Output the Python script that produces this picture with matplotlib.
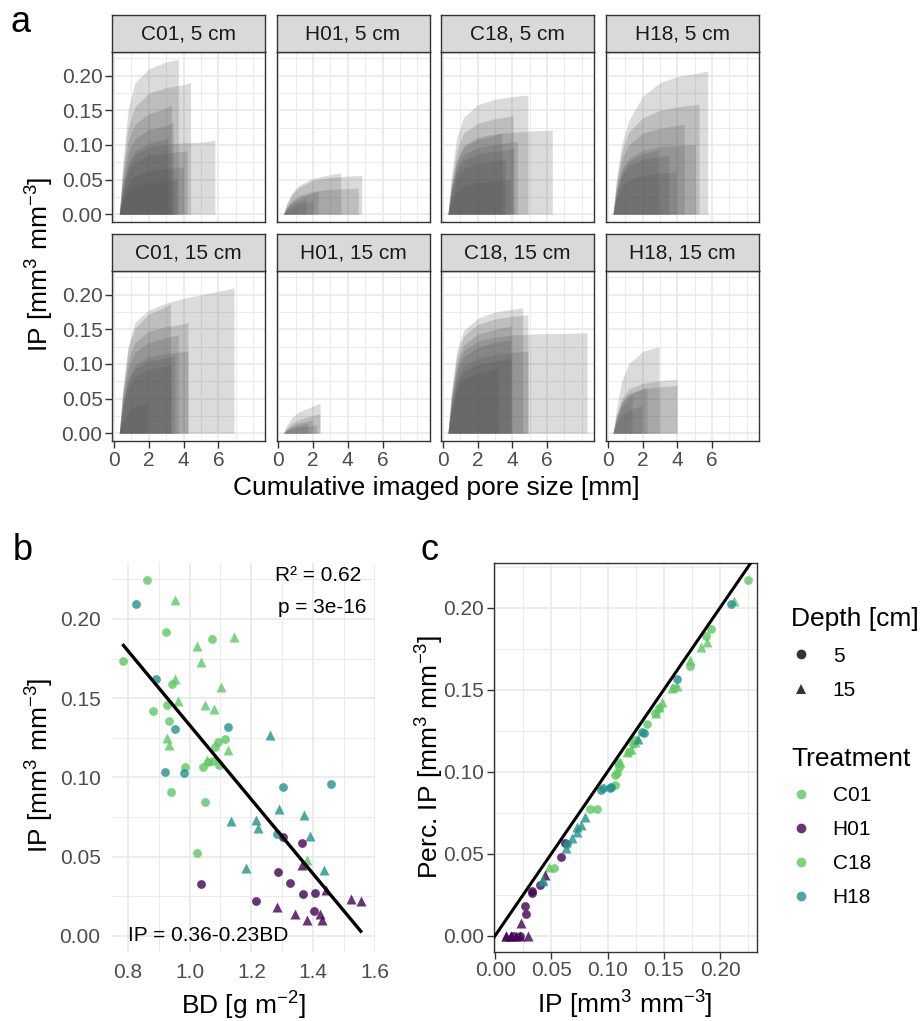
import matplotlib
matplotlib.use('Agg')
import matplotlib.pyplot as plt
from matplotlib.lines import Line2D
import numpy as np

plt.rcParams['font.family'] = ['Liberation Sans', 'DejaVu Sans']
plt.rcParams['mathtext.fontset'] = 'custom'
plt.rcParams['mathtext.rm'] = 'Liberation Sans'
plt.rcParams['mathtext.it'] = 'Liberation Sans:italic'
plt.rcParams['mathtext.bf'] = 'Liberation Sans:bold'

# ---------------- panel a: cumulative curves (x_end, y at KNOT_X ..., y at x_end)
KNOT_X = [0.3, 0.5, 0.8, 1.2, 2.0, 3.0, 4.0, 5.0, 6.0, 7.0, 8.0]

CURVES_C01_5 = [
    (3.7, [0, .07, .15, .19, .21, .22, .224]),
    (4.4, [0, .065, .125, .155, .175, .183, .187, .190]),
    (3.3, [0, .055, .105, .13, .145, .153, .158]),
    (3.4, [0, .047, .087, .109, .122, .128, .133]),
    (3.1, [0, .04, .073, .092, .103, .109, .112]),
    (5.8, [0, .037, .068, .086, .097, .101, .103, .104, .107]),
    (4.2, [0, .032, .06, .075, .085, .088, .091, .092]),
    (4.0, [0, .024, .044, .056, .063, .066, .068]),
    (3.6, [0, .018, .033, .041, .046, .048, .050]),
]
CURVES_H01_5 = [
    (3.6, [0, .016, .031, .042, .052, .057, .060]),
    (4.8, [0, .015, .029, .039, .049, .053, .055, .056]),
    (4.6, [0, .011, .020, .027, .033, .036, .037, .038]),
    (2.3, [0, .010, .018, .024, .031, .033]),
    (1.6, [0, .008, .015, .020, .024]),
    (2.0, [0, .006, .011, .015, .019]),
]
CURVES_C18_5 = [
    (4.9, [0, .055, .11, .14, .158, .166, .17, .172]),
    (4.05, [0, .048, .092, .117, .131, .138, .142, .143]),
    (6.3, [0, .04, .078, .099, .111, .116, .118, .12, .121, .122]),
    (3.4, [0, .04, .076, .096, .108, .114, .118]),
    (4.3, [0, .036, .068, .086, .096, .101, .104, .105]),
    (4.1, [0, .032, .062, .078, .087, .091, .094, .095]),
    (3.6, [0, .027, .052, .066, .073, .077, .080]),
    (3.9, [0, .017, .033, .041, .046, .048, .050]),
]
CURVES_H18_5 = [
    (5.75, [0, .05, .10, .135, .17, .19, .199, .203, .207]),
    (5.25, [0, .045, .09, .118, .139, .15, .155, .158, .159]),
    (4.4, [0, .04, .078, .10, .117, .124, .128, .130]),
    (5.05, [0, .033, .064, .081, .092, .097, .099, .101, .101]),
    (2.9, [0, .032, .06, .076, .087, .093]),
    (3.5, [0, .029, .055, .07, .079, .083, .085]),
    (3.95, [0, .021, .04, .05, .056, .059, .061]),
]
CURVES_C01_15 = [
    (6.9, [0, .06, .125, .16, .178, .188, .195, .20, .205, .21]),
    (3.25, [0, .062, .12, .152, .172, .183, .188]),
    (4.25, [0, .055, .104, .131, .147, .154, .158, .160]),
    (3.7, [0, .05, .093, .117, .131, .138, .142]),
    (4.25, [0, .042, .078, .098, .11, .115, .118, .119]),
    (3.5, [0, .04, .074, .093, .104, .109, .113]),
    (3.3, [0, .035, .065, .082, .092, .097, .100]),
    (1.9, [0, .016, .030, .038, .043]),
]
CURVES_H01_15 = [
    (2.4, [0, .012, .023, .031, .039, .043]),
    (2.4, [0, .008, .015, .02, .026, .028]),
    (1.95, [0, .006, .011, .015, .019]),
    (1.7, [0, .005, .009, .012, .015]),
    (2.2, [0, .004, .007, .009, .011, .012]),
]
CURVES_C18_15 = [
    (4.6, [0, .06, .118, .148, .166, .175, .179, .181]),
    (4.9, [0, .057, .11, .14, .157, .165, .169, .171]),
    (3.95, [0, .052, .10, .127, .143, .15, .155]),
    (8.3, [0, .048, .094, .119, .133, .139, .142, .143, .144, .144, .145, .145]),
    (3.9, [0, .045, .088, .11, .124, .131, .135]),
    (4.9, [0, .04, .076, .097, .108, .114, .117, .118]),
    (3.95, [0, .036, .07, .089, .099, .104, .108]),
    (3.2, [0, .032, .062, .078, .087, .092, .095]),
]
CURVES_H18_15 = [
    (2.95, [0, .035, .075, .10, .118, .125]),
    (3.98, [0, .025, .05, .064, .072, .076, .078]),
    (3.98, [0, .023, .045, .057, .064, .067, .069]),
    (2.25, [0, .023, .044, .056, .064, .067]),
    (1.4, [0, .02, .038, .05, .055]),
    (1.95, [0, .014, .027, .034, .040]),
]

FACET_LABELS = ['C01, 5 cm', 'H01, 5 cm', 'C18, 5 cm', 'H18, 5 cm',
                'C01, 15 cm', 'H01, 15 cm', 'C18, 15 cm', 'H18, 15 cm']
FACET_CURVES = [CURVES_C01_5, CURVES_H01_5, CURVES_C18_5, CURVES_H18_5,
                CURVES_C01_15, CURVES_H01_15, CURVES_C18_15, CURVES_H18_15]

# ---------------- panels b and c: one entry per sample
SAMPLE_TREAT = (['C01'] * 10 + ['C18'] * 9 + ['C01'] * 7 + ['C18'] * 7 +
                ['H18'] * 9 + ['H18'] * 9 + ['H01'] * 9 + ['H01'] * 9)
SAMPLE_DEPTH = ([5] * 10 + [5] * 9 + [15] * 7 + [15] * 7 +
                [5] * 9 + [15] * 9 + [5] * 9 + [15] * 9)
SAMPLE_BD = [0.863, 0.924, 0.786, 0.943, 0.932, 1.060, 0.984, 0.941, 1.024, 1.114,
             1.071, 0.927, 0.883, 1.091, 1.083, 1.075, 1.096, 1.043, 1.051,
             0.952, 1.145, 0.952, 1.079, 0.934, 1.056, 1.381,
             1.025, 1.036, 1.102, 0.964, 1.051, 0.927, 1.125,
             0.827, 0.892, 1.123, 0.954, 0.919, 0.983, 1.302, 1.459, 1.283,
             1.260, 1.289, 1.370, 1.135, 1.215, 1.222, 1.391, 1.184, 1.436,
             1.302, 1.363, 1.287, 1.037, 1.326, 1.367, 1.407, 1.214, 1.403,
             1.363, 1.440, 1.521, 1.554, 1.283, 1.342, 1.421, 1.380, 1.429]
SAMPLE_IP = [0.2246, 0.192, 0.1736, 0.1589, 0.1353, 0.1095, 0.1067, 0.0905, 0.052, 0.1242,
             0.1873, 0.1454, 0.142, 0.1225, 0.1193, 0.110, 0.108, 0.1067, 0.0846,
             0.212, 0.1884, 0.1619, 0.1431, 0.1204, 0.1109, 0.0478,
             0.1829, 0.173, 0.1572, 0.148, 0.1456, 0.1246, 0.1172,
             0.2094, 0.1619, 0.1319, 0.1307, 0.1031, 0.1025, 0.0941, 0.0956, 0.0642,
             0.1267, 0.0798, 0.0762, 0.0724, 0.073, 0.0682, 0.0631, 0.0425, 0.0415,
             0.0621, 0.0587, 0.0402, 0.0324, 0.0331, 0.0263, 0.0272, 0.0219, 0.0158,
             0.0446, 0.0289, 0.0232, 0.0221, 0.0183, 0.0137, 0.0137, 0.0099, 0.0099]
SAMPLE_PERC = [0.2169, 0.1872, 0.1646, 0.1509, 0.1291, 0.1051, 0.098, 0.0771, 0.0411, 0.1193,
               0.1827, 0.139, 0.1356, 0.117, 0.1122, 0.103, 0.099, 0.0919, 0.0771,
               0.2043, 0.1793, 0.152, 0.1356, 0.114, 0.106, 0.0417,
               0.176, 0.168, 0.1509, 0.1427, 0.1396, 0.118, 0.1122,
               0.2021, 0.1565, 0.1234, 0.124, 0.0909, 0.0899, 0.089, 0.090, 0.056,
               0.120, 0.0726, 0.0675, 0.0634, 0.066, 0.0594, 0.0533, 0.034, 0.033,
               0.0567, 0.0478, 0.0309, 0.0275, 0.026, 0.0181, 0.0132, 0.0, 0.0,
               0.037, 0.0, 0.0076, 0.0, 0.0, 0.0, 0.0, 0.0, 0.0]

TREATMENTS = ['C01', 'H01', 'C18', 'H18']
TREAT_COLORS = {'C01': '#5EC962', 'H01': '#440154', 'C18': '#5EC962', 'H18': '#21918C'}
DEPTHS = [5, 15]
DEPTH_MARKERS = {5: 'o', 15: '^'}
MARKER_SIZE = {5: 40, 15: 52}

FIT_INTERCEPT = 0.368
FIT_SLOPE = -0.235

W, H = 922, 1021
fig = plt.figure(figsize=(W / 100, H / 100), dpi=100)


def rect(x0, y0, x1, y1):
    return [x0 / W, 1 - y1 / H, (x1 - x0) / W, (y1 - y0) / H]


GRID = '#EBEBEB'
DARK = '#333333'
TXT = '#4D4D4D'
TICK_FS = 15
TITLE_FS = 19


def grid_style(ax, border=True):
    ax.grid(which='major', color=GRID, lw=1.3)
    ax.grid(which='minor', color=GRID, lw=0.75)
    ax.set_axisbelow(True)
    ax.tick_params(which='minor', length=0)
    ax.tick_params(which='major', labelsize=TICK_FS, labelcolor=TXT, color=DARK,
                   length=5, width=1.0, pad=2)
    for s in ax.spines.values():
        s.set_visible(border)
        s.set_color(DARK)
        s.set_linewidth(1.0)


# ---------------- panel a
col_x = [112.3, 276.5, 441, 606]
rows = [(15, 52, 222), (234, 271, 441)]
for i, (label, curves) in enumerate(zip(FACET_LABELS, FACET_CURVES)):
    r, c = divmod(i, 4)
    st, pt, pb = rows[r]
    x0 = col_x[c]
    ax = fig.add_axes(rect(x0, pt, x0 + 153, pb))
    for x_end, ys in curves:
        xs = KNOT_X[:len(ys) - 1] + [x_end]
        ax.fill_between(xs, ys, 0, color='#4D4D4D', alpha=0.2, lw=0)
    ax.set_xlim(-0.1, 8.7)
    ax.set_ylim(-0.0113, 0.2343)
    ax.set_xticks([0, 2, 4, 6])
    ax.set_xticks([1, 3, 5, 7, 8], minor=True)
    ax.set_yticks([0, 0.05, 0.10, 0.15, 0.20])
    ax.set_yticks([0.025, 0.075, 0.125, 0.175, 0.225], minor=True)
    grid_style(ax)
    ax.set_yticklabels(['0.00', '0.05', '0.10', '0.15', '0.20'])
    if c != 0:
        ax.tick_params(axis='y', which='both', left=False, labelleft=False)
    if r == 0:
        ax.tick_params(axis='x', which='both', bottom=False, labelbottom=False)
    sax = fig.add_axes(rect(x0, st, x0 + 153, pt))
    sax.set_facecolor('#D9D9D9')
    sax.set_xticks([])
    sax.set_yticks([])
    for s in sax.spines.values():
        s.set_color(DARK)
        s.set_linewidth(1.0)
    sax.text(0.5, 0.5, label, ha='center', va='center', fontsize=15, color='#1A1A1A',
             transform=sax.transAxes)

fig.text(10 / W, 1 - 32 / H, 'a', fontsize=26, va='baseline')
fig.text(40 / W, 1 - 264 / H, r'IP [mm$^{3}$ mm$^{-3}$]', rotation=90,
         ha='center', va='center', fontsize=TITLE_FS)
fig.text(436 / W, 1 - 488 / H, 'Cumulative imaged pore size [mm]',
         ha='center', va='center', fontsize=TITLE_FS)

bd = np.array(SAMPLE_BD)
ip = np.array(SAMPLE_IP)
perc = np.array(SAMPLE_PERC)
treat = np.array(SAMPLE_TREAT)
depth = np.array(SAMPLE_DEPTH)

# ---------------- panel b
axb = fig.add_axes(rect(111.7, 562.7, 375, 951.7))
for t in TREATMENTS:
    for d in DEPTHS:
        m = (treat == t) & (depth == d)
        axb.scatter(bd[m], ip[m], s=MARKER_SIZE[d], marker=DEPTH_MARKERS[d],
                    color=TREAT_COLORS[t], alpha=0.8, lw=0, zorder=3)
xx = np.array([bd.min(), bd.max()])
axb.plot(xx, FIT_INTERCEPT + FIT_SLOPE * xx, color='black', lw=2.4, zorder=4)
axb.set_xlim(0.748, 1.598)
axb.set_ylim(-0.0101, 0.2355)
axb.set_xticks([0.8, 1.0, 1.2, 1.4, 1.6])
axb.set_xticks([0.9, 1.1, 1.3, 1.5], minor=True)
axb.set_yticks([0, 0.05, 0.10, 0.15, 0.20])
axb.set_yticks([0.025, 0.075, 0.125, 0.175, 0.225], minor=True)
grid_style(axb, border=False)
axb.tick_params(which='major', length=0, pad=8)
axb.set_xticklabels(['0.8', '1.0', '1.2', '1.4', '1.6'])
axb.set_yticklabels(['0.00', '0.05', '0.10', '0.15', '0.20'])
axb.text(1.555, 0.2277, 'R\u00b2 = 0.62', ha='right', va='center', fontsize=15)
axb.text(1.572, 0.2075, 'p = 3e-16', ha='right', va='center', fontsize=15)
axb.text(0.80, 0.0, 'IP = 0.36-0.23BD', ha='left', va='center', fontsize=15, zorder=5)
fig.text(13 / W, 1 - 560 / H, 'b', fontsize=26, va='baseline')
fig.text(40 / W, 1 - 765 / H, r'IP [mm$^{3}$ mm$^{-3}$]', rotation=90,
         ha='center', va='center', fontsize=TITLE_FS)
fig.text(243 / W, 1 - 1006 / H, r'BD [g m$^{-2}$]', ha='center', va='center',
         fontsize=TITLE_FS)

# ---------------- panel c
axc = fig.add_axes(rect(494, 563.3, 756.7, 951.7))
for t in TREATMENTS:
    for d in DEPTHS:
        m = (treat == t) & (depth == d)
        axc.scatter(ip[m], perc[m], s=MARKER_SIZE[d], marker=DEPTH_MARKERS[d],
                    color=TREAT_COLORS[t], alpha=0.8, lw=0, zorder=3)
axc.axline((0, 0), slope=1, color='black', lw=2.2, zorder=4)
axc.set_xlim(-0.001, 0.2325)
axc.set_ylim(-0.0098, 0.227)
ticks = [0, 0.05, 0.10, 0.15, 0.20]
labs = ['0.00', '0.05', '0.10', '0.15', '0.20']
axc.set_xticks(ticks)
axc.set_yticks(ticks)
axc.set_xticks([0.025, 0.075, 0.125, 0.175, 0.225], minor=True)
axc.set_yticks([0.025, 0.075, 0.125, 0.175, 0.225], minor=True)
grid_style(axc)
axc.set_xticklabels(labs)
axc.set_yticklabels(labs)
fig.text(420 / W, 1 - 560 / H, 'c', fontsize=26, va='baseline')
fig.text(430 / W, 1 - 757 / H, r'Perc. IP [mm$^{3}$ mm$^{-3}$]', rotation=90,
         ha='center', va='center', fontsize=TITLE_FS)
fig.text(625 / W, 1 - 1005 / H, r'IP [mm$^{3}$ mm$^{-3}$]', ha='center', va='center',
         fontsize=TITLE_FS)

# ---------------- legends
h_depth = [Line2D([], [], ls='', marker=DEPTH_MARKERS[d], color='black', alpha=0.8,
                  ms=7, mew=0) for d in DEPTHS]
fig.legend(h_depth, [str(d) for d in DEPTHS], title='Depth [cm]',
           loc='upper left', bbox_to_anchor=(791 / W, 1 - 607 / H),
           frameon=False, fontsize=15, title_fontsize=TITLE_FS,
           alignment='left', handlelength=1.0, handletextpad=1.0,
           labelspacing=0.75, borderpad=0, borderaxespad=0)
h_treat = [Line2D([], [], ls='', marker='o', color=TREAT_COLORS[t], alpha=0.8,
                  ms=7, mew=0) for t in TREATMENTS]
fig.legend(h_treat, TREATMENTS, title='Treatment',
           loc='upper left', bbox_to_anchor=(791 / W, 1 - 747 / H),
           frameon=False, fontsize=15, title_fontsize=TITLE_FS,
           alignment='left', handlelength=1.0, handletextpad=1.0,
           labelspacing=0.72, borderpad=0, borderaxespad=0)

fig.savefig('out.png', dpi=100)
